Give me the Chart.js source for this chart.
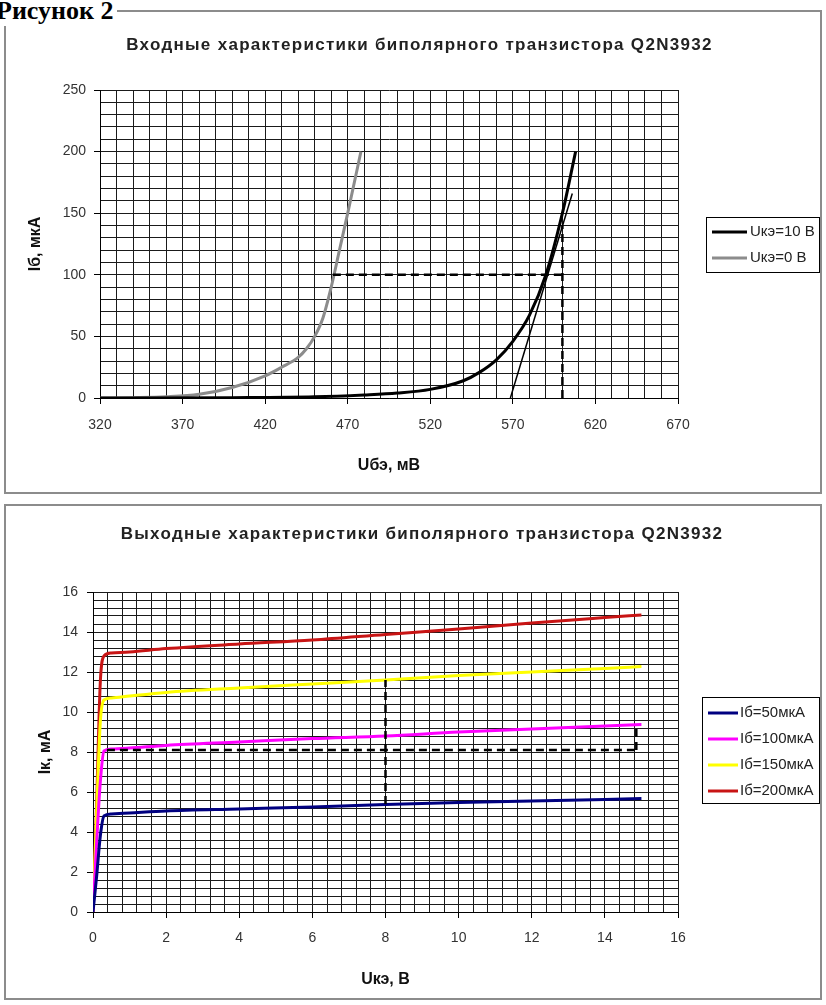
<!DOCTYPE html>
<html lang="ru">
<head>
<meta charset="utf-8">
<title>Характеристики биполярного транзистора Q2N3932</title>
<script src="https://cdn.jsdelivr.net/npm/chart.js@4/dist/chart.umd.min.js"></script>
<style>
  html, body { margin: 0; padding: 0; background: #fff; }
  body { width: 826px; height: 1005px; position: relative; overflow: hidden; }
  .caption { position: absolute; left: -4px; top: -4px; z-index: 2; background: #fff; padding-right: 3px;
    font: bold 26px 'Liberation Serif', 'Times New Roman', serif; color: #000; }
  .frame { position: absolute; left: 4px; width: 814px; border: 2px solid #8c8c8c; }
  #frame-in { top: 10px; height: 480px; }
  #frame-out { top: 504px; height: 492px; }
  .frame canvas { position: absolute; left: 0; top: 0; }
  .title { position: absolute; text-align: center; white-space: nowrap; z-index: 1;
    font: bold 17px 'Liberation Sans', Arial, sans-serif; letter-spacing: 1.3px; color: #222; }
</style>
</head>
<body>
<div class="caption">Рисунок 2</div>

<div class="frame" id="frame-in">
  <canvas id="chart-in" width="814" height="480"></canvas>
  <div class="title" style="left:0; width:827px; top:23px;">Входные характеристики биполярного транзистора Q2N3932</div>
</div>

<div class="frame" id="frame-out">
  <canvas id="chart-out" width="814" height="492"></canvas>
  <div class="title" style="left:0; width:832px; top:18px;">Выходные характеристики биполярного транзистора Q2N3932</div>
</div>

<script>
// входные характеристики: Uбэ (мВ) -> Iб (мкА)
const inX10 = [320, 400, 450, 480, 500, 520, 540, 550, 560, 570, 580, 590, 600, 608];
const inY10 = [0, 0.3, 1, 2.5, 4, 7, 14, 21, 31, 46, 67, 100, 150, 200];
const inX0 = [320, 340, 360, 380, 400, 420, 430, 440, 445, 450, 455, 460, 465, 470, 478];
const inY0 = [0, 0.3, 1, 3, 8.5, 18, 25, 33, 40, 50, 65, 90, 120, 150, 200];
// касательная и построения
const tanX = [568.5, 606];
const tanY = [0, 166];
const dashHX = [461, 600];
const dashHY = [100, 100];
const dashVX = [600, 600];
const dashVY = [0, 140];

// выходные характеристики: Uкэ (В) -> Iк (мА)
const outX = [0, 0.1, 0.2, 0.3, 0.5, 1, 2, 4, 6, 8, 10, 12, 14, 15];
const ib50 = [0, 1.8, 3.8, 4.8, 4.9, 4.95, 5.05, 5.15, 5.25, 5.37, 5.47, 5.55, 5.63, 5.67];
const ib100 = [0, 3.5, 6.5, 8.05, 8.15, 8.2, 8.33, 8.5, 8.67, 8.8, 9.0, 9.15, 9.3, 9.37];
const ib150 = [0, 5, 9.5, 10.6, 10.7, 10.8, 10.98, 11.2, 11.4, 11.6, 11.82, 12.0, 12.17, 12.27];
const ib200 = [0, 5.5, 11.5, 12.8, 12.95, 13.0, 13.17, 13.4, 13.6, 13.88, 14.15, 14.45, 14.72, 14.85];
const outDashHX = [0.38, 14.86];
const outDashHY = [8.1, 8.1];
const outDashV1X = [8, 8];
const outDashV1Y = [5.4, 11.6];
const outDashV2X = [14.86, 14.86];
const outDashV2Y = [8.1, 9.3];

const FONT = "'Liberation Sans', Arial, sans-serif";
const GRID = '#1a1a1a';

const pts = (xs, ys) => xs.map((x, i) => ({ x, y: ys[i] }));
const onStep = (v, step) => Math.abs(v / step - Math.round(v / step)) < 1e-6;

function curve(label, xs, ys, color, width) {
  return { label, data: pts(xs, ys), borderColor: color, borderWidth: width, inLegend: true,
    cubicInterpolationMode: 'monotone', pointRadius: 0, fill: false };
}
function helper(xs, ys, width, dash) {
  return { data: pts(xs, ys), borderColor: '#000', borderWidth: width, borderDash: dash || [],
    pointRadius: 0, fill: false, tension: 0 };
}

// рамка легенды с образцами линий
const boxLegend = {
  id: 'boxLegend',
  afterDraw(chart, args, o) {
    const ctx = chart.ctx;
    const items = chart.data.datasets.filter(d => d.inLegend);
    ctx.save();
    ctx.strokeStyle = '#000';
    ctx.lineWidth = 1;
    ctx.strokeRect(o.x + 0.5, o.y + 0.5, o.w, o.h);
    ctx.font = '15px ' + FONT;
    ctx.textBaseline = 'middle';
    ctx.fillStyle = '#222';
    items.forEach((d, i) => {
      const y = o.row0 + i * o.rowGap;
      ctx.strokeStyle = d.borderColor;
      ctx.lineWidth = d.borderWidth;
      ctx.beginPath();
      ctx.moveTo(o.x + o.lineFrom, y);
      ctx.lineTo(o.x + o.lineTo, y);
      ctx.stroke();
      ctx.fillText(d.label, o.x + o.textAt, y);
    });
    ctx.restore();
  }
};

function axis(opts) {
  const major = v => onStep(v - opts.min, opts.major);
  return {
    type: 'linear',
    min: opts.min,
    max: opts.max,
    afterFit: s => { if (opts.width) s.width = opts.width; if (opts.height) s.height = opts.height; },
    border: { color: '#000', width: 1 },
    grid: {
      color: GRID,
      lineWidth: 1,
      tickLength: 6,
      tickColor: ctx => (ctx.tick && major(ctx.tick.value) ? '#000' : 'rgba(0,0,0,0)')
    },
    ticks: {
      stepSize: opts.minor,
      autoSkip: false,
      maxRotation: 0,
      padding: opts.pad,
      color: '#333',
      font: { family: FONT, size: 14 },
      callback: v => (major(v) ? String(Math.round(v * 100) / 100) : '')
    },
    title: {
      display: true,
      text: opts.title,
      color: '#111',
      font: { family: FONT, size: 16, weight: 'bold' },
      padding: opts.titlePad
    }
  };
}

new Chart(document.getElementById('chart-in'), {
  type: 'line',
  data: {
    datasets: [
      helper(dashHX, dashHY, 2.5, [8, 5]),
      helper(dashVX, dashVY, 2.5, [8, 5]),
      helper(tanX, tanY, 1.5),
      curve('Uкэ=10 В', inX10, inY10, '#000000', 3),
      curve('Uкэ=0 В', inX0, inY0, '#8c8c8c', 3)
    ]
  },
  options: {
    responsive: false,
    animation: false,
    events: [],
    layout: { padding: { left: 0, right: 142, top: 78, bottom: 0 } },
    plugins: {
      legend: { display: false },
      tooltip: { enabled: false },
      boxLegend: { x: 700, y: 205, w: 113, h: 55, row0: 220, rowGap: 26, lineFrom: 6, lineTo: 41, textAt: 44 }
    },
    scales: {
      x: axis({ min: 320, max: 670, minor: 10, major: 50, pad: 13, height: 94,
        title: 'Uбэ, мВ', titlePad: { top: 0, bottom: 17 } }),
      y: axis({ min: 0, max: 250, minor: 10, major: 50, pad: 8, width: 94,
        title: 'Iб, мкА', titlePad: { top: 20, bottom: 0 } })
    }
  },
  plugins: [boxLegend]
});

new Chart(document.getElementById('chart-out'), {
  type: 'line',
  data: {
    datasets: [
      helper(outDashHX, outDashHY, 2.5, [8, 5]),
      helper(outDashV1X, outDashV1Y, 2.5, [8, 5]),
      helper(outDashV2X, outDashV2Y, 2.5, [8, 5]),
      curve('Iб=50мкА', outX, ib50, '#000080', 3),
      curve('Iб=100мкА', outX, ib100, '#ff00ff', 3),
      curve('Iб=150мкА', outX, ib150, '#ffff00', 3),
      curve('Iб=200мкА', outX, ib200, '#c81414', 3)
    ]
  },
  options: {
    responsive: false,
    animation: false,
    events: [],
    layout: { padding: { left: 0, right: 142, top: 86, bottom: 0 } },
    plugins: {
      legend: { display: false },
      tooltip: { enabled: false },
      boxLegend: { x: 696, y: 191, w: 117, h: 106, row0: 207, rowGap: 26, lineFrom: 6, lineTo: 36, textAt: 38 }
    },
    scales: {
      x: axis({ min: 0, max: 16, minor: 0.4, major: 2, pad: 12, height: 86,
        title: 'Uкэ, В', titlePad: { top: 0, bottom: 9 } }),
      y: axis({ min: 0, max: 16, minor: 0.4, major: 2, pad: 9, width: 87,
        title: 'Iк, мА', titlePad: { top: 30, bottom: 0 } })
    }
  },
  plugins: [boxLegend]
});
</script>
</body>
</html>
